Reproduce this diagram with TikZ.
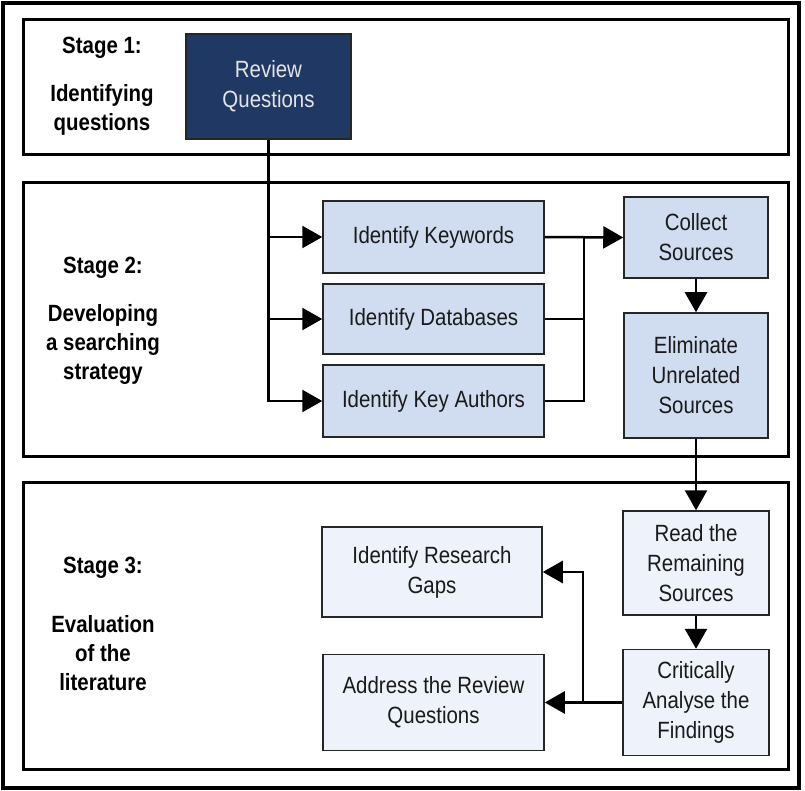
\documentclass[tikz,border=0pt]{standalone}
\usepackage{fontspec}
\setmainfont{Liberation Sans}[FakeStretch=0.87]
\usetikzlibrary{arrows.meta}
\definecolor{navy}{HTML}{203864}
\definecolor{paleblue}{HTML}{D0DCF0}
\definecolor{palerblue}{HTML}{EEF2FA}
\definecolor{boxtext}{HTML}{1A1A1A}
\definecolor{lighttext}{HTML}{E4E4E4}
\tikzset{
  frame/.style={draw=black, line width=3pt},
  basebox/.style={draw=black!85, line width=1.5pt, align=center, text=boxtext,
    font=\fontsize{23.5}{30}\selectfont, inner sep=0pt},
  darkbox/.style={basebox, fill=navy, text=lighttext},
  stagetwo/.style={basebox, fill=paleblue},
  stagethree/.style={basebox, fill=palerblue},
  stagelabel/.style={align=center, font=\bfseries\fontsize{23.5}{29}\selectfont, inner sep=0pt},
  link/.style={line width=2.5pt, -{Triangle[length=20pt,width=22pt]}},
  plainlink/.style={line width=2.5pt},
}
\begin{document}
\begin{tikzpicture}[x=1pt,y=-1pt]
  \useasboundingbox (0,0) rectangle (805,791);
  % outer border and the three stage frames
  \draw[line width=4pt] (3,3) rectangle (799,788);
  \draw[frame] (23,20) rectangle (788,155);
  \draw[frame] (23,183) rectangle (788,456);
  \draw[frame] (23,482) rectangle (788,769);

  % stage labels
  \node[stagelabel] (s1a) at (102,48) {Stage 1:};
  \node[stagelabel] (s1b) at (102,110) {Identifying\\questions};
  \node[stagelabel] (s2a) at (103,268) {Stage 2:};
  \node[stagelabel] (s2b) at (103,344) {Developing\\a searching\\strategy};
  \node[stagelabel] (s3a) at (103,568) {Stage 3:};
  \node[stagelabel] (s3b) at (103,653) {Evaluation\\of the\\literature};

  % stage 1
  \node[darkbox, minimum width=165pt, minimum height=105pt] (rq) at (268.5,86.5) {Review\\Questions};

  % stage 2
  \node[stagetwo, minimum width=221pt, minimum height=72pt] (kw) at (433.5,237) {Identify Keywords};
  \node[stagetwo, minimum width=221pt, minimum height=70pt] (db) at (433.5,319) {Identify Databases};
  \node[stagetwo, minimum width=221pt, minimum height=72pt] (ka) at (433.5,401) {Identify Key Authors};
  \node[stagetwo, minimum width=144pt, minimum height=81pt] (cs) at (696,237.5) {Collect\\Sources};
  \node[stagetwo, minimum width=144pt, minimum height=125pt] (el) at (696,375.5) {Eliminate\\Unrelated\\Sources};

  % stage 3
  \node[stagethree, minimum width=146pt, minimum height=104pt] (rd) at (696,563) {Read the\\Remaining\\Sources};
  \node[stagethree, minimum width=146pt, minimum height=106pt] (ca) at (696,702.5) {Critically\\Analyse the\\Findings};
  \node[stagethree, minimum width=220pt, minimum height=90pt] (gp) at (432,572) {Identify Research\\Gaps};
  \node[stagethree, minimum width=221pt, minimum height=96pt] (ad) at (433.5,702.5) {Address the Review\\Questions};

  % junction points
  \coordinate (merge) at (584,237.5);
  \coordinate (split) at (583,702.5);

  % connectors
  \draw[link] (rq.south) |- (kw.west);
  \draw[link] (rq.south) |- (db.west);
  \draw[link] (rq.south) |- (ka.west);
  \draw[link] (kw.east) -- (cs.west);
  \draw[plainlink] (db.east) -| (merge);
  \draw[plainlink] (ka.east) -| (merge);
  \draw[link] (cs.south) -- (el.north);
  \draw[link] (el.south) -- (rd.north);
  \draw[link] (rd.south) -- (ca.north);
  \draw[link] (ca.west) -- (ad.east);
  \draw[link] (split) |- (gp.east);
\end{tikzpicture}
\end{document}
